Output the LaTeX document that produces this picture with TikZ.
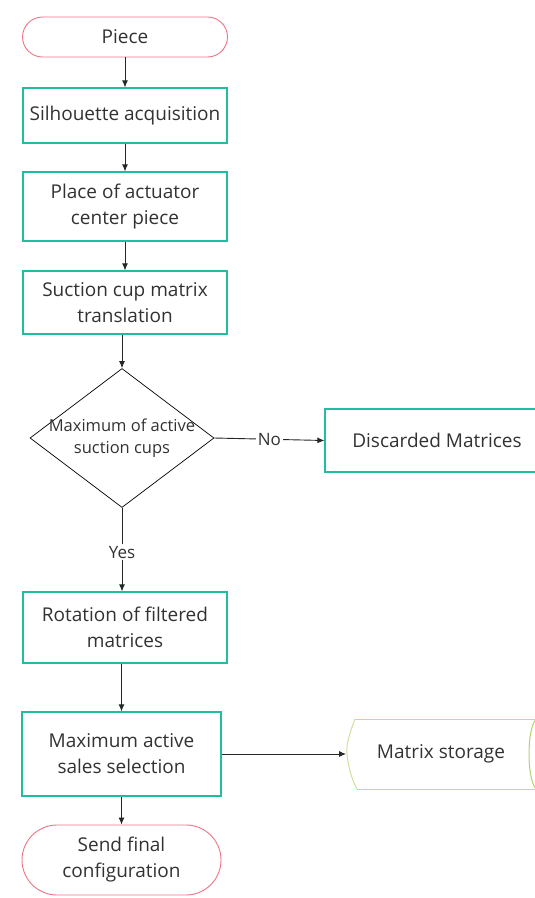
\documentclass[tikz,border=0pt]{standalone}
\usepackage{fontspec}
\setmainfont{Open Sans}
\usetikzlibrary{shapes.geometric,arrows.meta,positioning}
\definecolor{boxteal}{RGB}{30,190,160}
\definecolor{pillred}{RGB}{240,115,135}
\definecolor{storeorange}{RGB}{250,195,125}
\definecolor{storeside}{RGB}{215,220,160}
\definecolor{storegreen}{RGB}{175,210,115}
\definecolor{txtgray}{RGB}{50,50,50}
\tikzset{
  procbox/.style={draw=boxteal, line width=1.2pt, rectangle, minimum width=204pt, align=center, text=txtgray, font=\fontsize{19}{26}\selectfont},
  pill/.style={draw=pillred, line width=0.9pt, rectangle, align=center, text=txtgray, font=\fontsize{19}{26}\selectfont},
  flow/.style={-{Latex[length=7pt,width=6pt]}, line width=0.9pt, black!85},
  onlabel/.style={fill=white, text=txtgray, font=\fontsize{17}{20}\selectfont, inner sep=2pt}
}
\begin{document}
\begin{tikzpicture}[x=1pt,y=-1pt]
\useasboundingbox (0,0) rectangle (535,898);

\node[pill, minimum width=205pt, minimum height=40pt, rounded corners=20pt] (piece) at (125,37) {Piece};
\node[procbox, minimum height=55pt] (sil) at (125,115.5) {Silhouette acquisition};
\node[procbox, minimum height=69pt] (place) at (125,206.5) {Place of actuator\\center piece};
\node[procbox, minimum height=63pt] (suction) at (125,302.5) {Suction cup matrix\\translation};

\node[draw, diamond, line width=0.7pt, minimum width=184pt, minimum height=139pt, inner sep=0pt] (dec) at (122,438) {};
\node[align=center, text=txtgray, font=\fontsize{16.5}{22}\selectfont, inner sep=0pt] (dectext) at (dec.center)
  {Maximum of active\\suction cups};

\node[procbox, minimum width=224pt, minimum height=63pt] (disc) at (437,440.5) {Discarded Matrices};

\node[procbox, minimum height=71pt] (rot) at (125,627.5) {Rotation of filtered\\matrices};
\node[procbox, minimum width=199pt, minimum height=84pt] (maxsel) at (121.5,754) {Maximum active\\sales selection};

% storage shape
\draw[storeorange, line width=1pt] (355,719) -- (548,719) (357,789) -- (548,789);
\draw[storeside, line width=1pt] (355,719) .. controls (349,735) and (346,745) .. (347,754)
  .. controls (348,765) and (351,778) .. (357,789);
\draw[storegreen, line width=1pt] (536,719) .. controls (531,725) and (529,740) .. (529,754)
  .. controls (529,768) and (531,783) .. (536,789);
\node[text=txtgray, font=\fontsize{19}{26}\selectfont] (store) at (441,754) {Matrix storage};
\coordinate (storetip) at (346,754);

\node[pill, minimum width=199pt, minimum height=70pt, rounded corners=35pt] (send) at (121.5,860) {Send final\\configuration};

\draw[flow] (piece) -- (sil);
\draw[flow] (sil) -- (place);
\draw[flow] (place) -- (suction);
\draw[flow] (suction.south -| dec.north) -- (dec.north);
\draw[flow] (dec.east) -- node[onlabel, pos=0.5] {No} (disc.west);
\draw[flow] (dec.south) -- node[onlabel, pos=0.53] {Yes} (dec.south |- rot.north);
\draw[flow] (rot.south -| maxsel.north) -- (maxsel.north);
\draw[flow] (maxsel.east) -- (storetip);
\draw[flow] (maxsel) -- (send);

\end{tikzpicture}
\end{document}
